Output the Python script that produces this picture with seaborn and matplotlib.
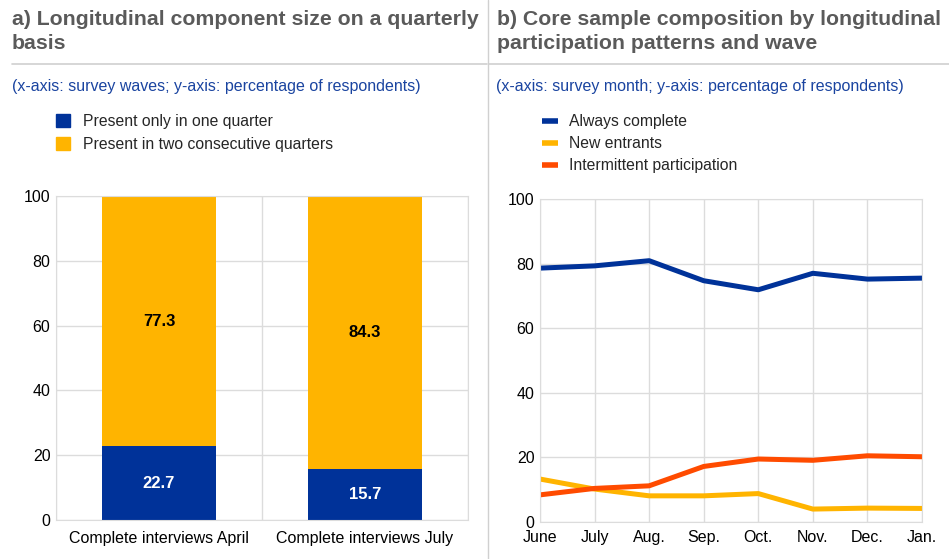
import numpy as np
import pandas as pd
import seaborn as sns
import matplotlib.pyplot as plt
from matplotlib.lines import Line2D
from matplotlib.patches import Patch

# Panel a) data
waves = ["Complete interviews April", "Complete interviews July"]
one_quarter = [22.7, 15.7]
two_quarters = [77.3, 84.3]

# Panel b) data
months = ["June", "July", "Aug.", "Sep.", "Oct.", "Nov.", "Dec.", "Jan."]
always_complete = [78.6, 79.3, 80.9, 74.7, 71.9, 77.0, 75.2, 75.5]
new_entrants = [13.3, 10.2, 8.1, 8.1, 8.8, 4.0, 4.3, 4.2]
intermittent = [8.4, 10.4, 11.2, 17.2, 19.5, 19.1, 20.5, 20.2]

BLUE = "#003299"
YELLOW = "#FFB400"
ORANGE = "#FF4B00"
TITLE_GREY = "#5a5a5a"
SUB_BLUE = "#1a44a0"
GRID = "#dcdcdc"

sns.set_style("white")
plt.rcParams["font.family"] = ["Liberation Sans", "DejaVu Sans"]

W, H = 949, 559
fig = plt.figure(figsize=(W / 100, H / 100), dpi=100)


def box(x0, y0, x1, y1):
    # pixel box (top-left origin) -> figure fraction rect
    return [x0 / W, 1 - y1 / H, (x1 - x0) / W, (y1 - y0) / H]


def fx(x):
    return x / W


def fy(y):
    return 1 - y / H


ax1 = fig.add_axes(box(56, 196, 468, 520))
ax2 = fig.add_axes(box(540, 199, 922, 522))

# ---- panel a: stacked bars ----
df_a = pd.DataFrame({"wave": waves, "one": one_quarter, "two": two_quarters})
sns.barplot(data=df_a, x="wave", y="one", color=BLUE, width=0.55,
            saturation=1, ax=ax1, linewidth=0)
sns.barplot(data=df_a, x="wave", y="two", color=YELLOW, width=0.55,
            saturation=1, bottom=df_a["one"], ax=ax1, linewidth=0)
for i in range(len(waves)):
    ax1.text(i, one_quarter[i] / 2, f"{one_quarter[i]:.1f}", ha="center",
             va="center", color="white", fontsize=12, fontweight="bold")
    ax1.text(i, one_quarter[i] + two_quarters[i] / 2, f"{two_quarters[i]:.1f}",
             ha="center", va="center", color="black", fontsize=12,
             fontweight="bold")
ax1.set_xlim(-0.5, 1.5)
ax1.set_ylim(0, 100)
ax1.set_yticks(range(0, 101, 20))
ax1.set_xticks([0, 1])
ax1.set_xticks([-0.5, 0.5, 1.5], minor=True)
ax1.grid(axis="y", color=GRID, lw=1)
ax1.grid(axis="x", which="minor", color=GRID, lw=1)
ax1.set_axisbelow(True)
ax1.set_xlabel("")
ax1.set_ylabel("")

# ---- panel b: lines ----
df_b = pd.DataFrame({
    "month": months * 3,
    "value": always_complete + new_entrants + intermittent,
    "series": (["Always complete"] * 8 + ["New entrants"] * 8
               + ["Intermittent participation"] * 8),
})
df_b["pos"] = np.tile(np.arange(len(months)), 3)
sns.lineplot(data=df_b, x="pos", y="value", hue="series",
             palette=[BLUE, YELLOW, ORANGE], lw=3.6, legend=False, ax=ax2)
ax2.set_xlim(0, len(months) - 1)
ax2.set_ylim(0, 100)
ax2.set_yticks(range(0, 101, 20))
ax2.set_xticks(range(len(months)))
ax2.set_xticklabels(months)
ax2.grid(True, color=GRID, lw=1)
ax2.set_axisbelow(True)
ax2.set_xlabel("")
ax2.set_ylabel("")

for ax in (ax1, ax2):
    for s in ax.spines.values():
        s.set_visible(True)
        s.set_color(GRID)
    ax.tick_params(axis="both", length=0, labelsize=11.5, colors="black", pad=4)
ax1.tick_params(axis="x", pad=8)
ax2.tick_params(axis="x", pad=6)

# ---- titles, subtitles, separators ----
fig.text(fx(12), fy(10), "a) Longitudinal component size on a quarterly\nbasis",
         ha="left", va="top", fontsize=15.3, fontweight="bold",
         color=TITLE_GREY, linespacing=1.32)
fig.text(fx(497), fy(10), "b) Core sample composition by longitudinal\nparticipation patterns and wave",
         ha="left", va="top", fontsize=15.3, fontweight="bold",
         color=TITLE_GREY, linespacing=1.32)
fig.text(fx(12), fy(86), "(x-axis: survey waves; y-axis: percentage of respondents)",
         ha="left", va="center", fontsize=11.5, color=SUB_BLUE)
fig.text(fx(496), fy(86), "(x-axis: survey month; y-axis: percentage of respondents)",
         ha="left", va="center", fontsize=11.5, color=SUB_BLUE)

fig.add_artist(Line2D([fx(12), fx(487)], [fy(64), fy(64)], color="#d0d0d0", lw=1.2))
fig.add_artist(Line2D([fx(489), fx(949)], [fy(64), fy(64)], color="#d0d0d0", lw=1.2))
fig.add_artist(Line2D([fx(488), fx(488)], [fy(0), fy(559)], color="#d0d0d0", lw=1))

# ---- legends ----
fig.legend(handles=[Patch(color=BLUE, label="Present only in one quarter"),
                    Patch(color=YELLOW, label="Present in two consecutive quarters")],
           loc="upper left", bbox_to_anchor=(fx(42), fy(100)), frameon=False,
           fontsize=11.3, handlelength=0.9, handleheight=0.9,
           handletextpad=0.8, labelspacing=0.5)
fig.legend(handles=[Line2D([], [], color=BLUE, lw=4, solid_capstyle="butt", label="Always complete"),
                    Line2D([], [], color=YELLOW, lw=4, solid_capstyle="butt", label="New entrants"),
                    Line2D([], [], color=ORANGE, lw=4, solid_capstyle="butt", label="Intermittent participation")],
           loc="upper left", bbox_to_anchor=(fx(528), fy(100)), frameon=False,
           fontsize=11.3, handlelength=1.0, handletextpad=0.7, labelspacing=0.45)

fig.savefig("out.png", dpi=100)
